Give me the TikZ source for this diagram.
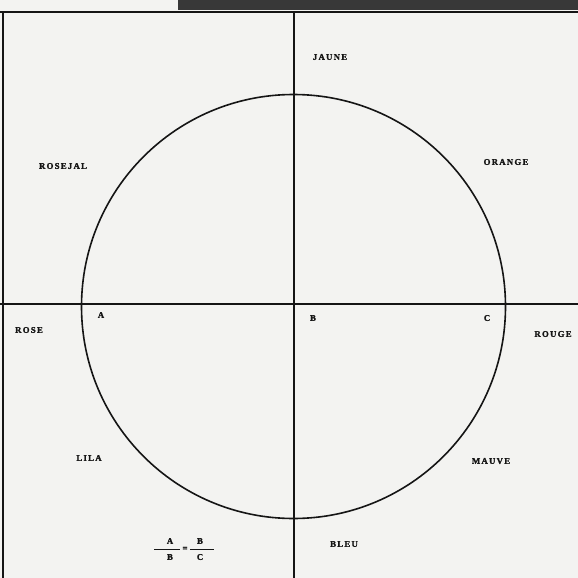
\documentclass[tikz,border=0pt]{standalone}
\usepackage{fontspec}
\setmainfont{Liberation Serif}
\newfontfamily\lblfont[LetterSpace=14, FakeBold=1.5]{Liberation Serif}
\definecolor{paper}{HTML}{F3F3F1}
\definecolor{ink}{HTML}{151515}
\begin{document}
\begin{tikzpicture}[x=1pt,y=-1pt,
  lbl/.style={font=\lblfont\bfseries\fontsize{8.8}{10}\selectfont, text=ink, inner sep=0pt},
  axis/.style={draw=ink, line width=1.7pt},
  frame/.style={draw=ink, line width=2pt}]
\useasboundingbox (0,0) rectangle (578,578);
\fill[paper] (0,0) rectangle (578,578);
% scanned strip at the top
\fill[ink!85] (178,0) rectangle (578,10);
\draw[frame] (0,12.5) -- (578,12.5);
\draw[frame] (3,12.5) -- (3,578);
% axes
\coordinate (top) at (294,12.5);
\coordinate (bot) at (294,578);
\coordinate (lft) at (0,304);
\coordinate (rgt) at (578,304);
\draw[axis] (top) -- (bot);
\draw[axis] (lft) -- (rgt);
% circle
\node[circle, draw=ink, line width=1.6pt, minimum size=424pt, inner sep=0pt] (circ) at (293.5,306.5) {};
% labels
\node[lbl] (jaune) at (330,57) {JAUNE};
\node[lbl] (rosejal) at (63,166) {ROSEJAL};
\node[lbl] (orange) at (506,162) {ORANGE};
\node[lbl] (rose) at (29,330) {ROSE};
\node[lbl] (a) at (101,315) {A};
\node[lbl] (b) at (313,318) {B};
\node[lbl] (c) at (487,318) {C};
\node[lbl] (rouge) at (553,334) {ROUGE};
\node[lbl] (lila) at (89,458) {LILA};
\node[lbl] (mauve) at (491,461) {MAUVE};
\node[lbl] (bleu) at (344,544) {BLEU};
% fraction
\node[lbl] (fa) at (170,541) {A};
\node[lbl] (fb) at (170,557) {B};
\node[lbl] (fb2) at (200,541) {B};
\node[lbl] (fc) at (200,557) {C};
\node[lbl] (eq) at (185,549) {=};
\draw[ink, line width=0.9pt] (154,549) -- (180,549);
\draw[ink, line width=0.9pt] (190,549) -- (214,549);
\end{tikzpicture}
\end{document}
